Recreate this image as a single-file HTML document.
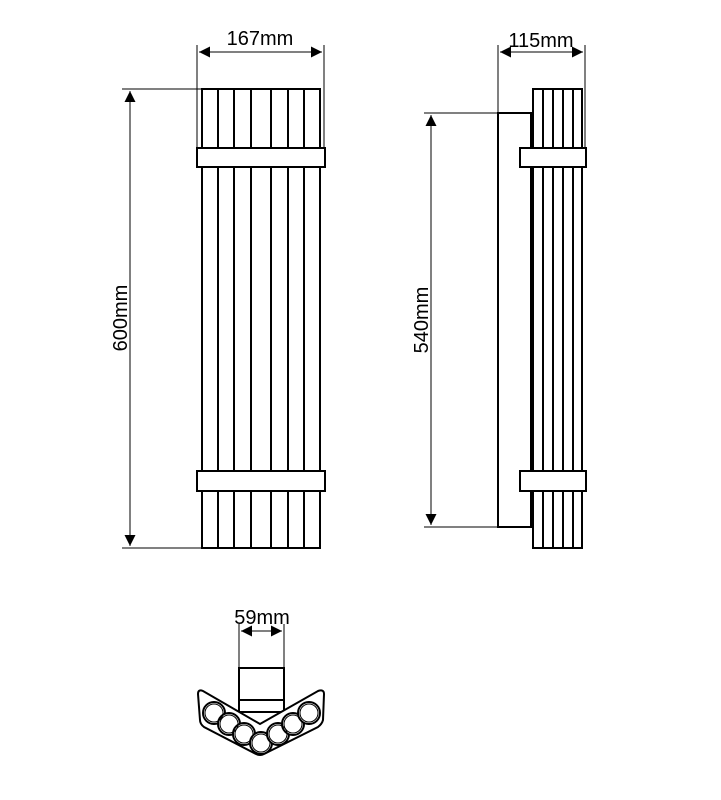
<!DOCTYPE html>
<html><head><style>body{margin:0;background:#fff}svg{display:block}</style></head><body>
<svg width="721" height="800" viewBox="0 0 721 800" xmlns="http://www.w3.org/2000/svg" font-family="Liberation Sans, sans-serif">
<defs><marker id="a" viewBox="0 0 10 10" refX="10" refY="5" markerWidth="15" markerHeight="11" orient="auto-start-reverse" markerUnits="userSpaceOnUse"><path d="M0,0L10,5L0,10z" fill="#000"/></marker></defs>
<g stroke="#000" fill="none" stroke-width="1">
<line x1="197" y1="45" x2="197" y2="148"/><line x1="324" y1="45" x2="324" y2="148"/>
<line x1="199" y1="52" x2="322" y2="52" marker-start="url(#a)" marker-end="url(#a)"/>
<line x1="122" y1="89" x2="202" y2="89"/><line x1="122" y1="548" x2="202" y2="548"/>
<line x1="130" y1="91" x2="130" y2="546" marker-start="url(#a)" marker-end="url(#a)"/>
<g stroke-width="2">
<rect x="202" y="89" width="118" height="459"/>
<line x1="218" y1="89" x2="218" y2="548"/><line x1="234" y1="89" x2="234" y2="548"/><line x1="251" y1="89" x2="251" y2="548"/><line x1="271" y1="89" x2="271" y2="548"/><line x1="288" y1="89" x2="288" y2="548"/><line x1="304" y1="89" x2="304" y2="548"/>
<rect x="197" y="148" width="128" height="19" fill="#fff"/>
<rect x="197" y="471" width="128" height="20" fill="#fff"/>
<rect x="533" y="89" width="49" height="459"/>
<line x1="543" y1="89" x2="543" y2="548"/><line x1="553" y1="89" x2="553" y2="548"/><line x1="563" y1="89" x2="563" y2="548"/><line x1="573" y1="89" x2="573" y2="548"/>
<rect x="498" y="113" width="33" height="414" fill="#fff"/>
<rect x="520" y="148" width="66" height="19" fill="#fff"/>
<rect x="520" y="471" width="66" height="20" fill="#fff"/>
</g>
<line x1="498" y1="45" x2="498" y2="113"/><line x1="585" y1="45" x2="585" y2="148"/>
<line x1="500" y1="52" x2="583" y2="52" marker-start="url(#a)" marker-end="url(#a)"/>
<line x1="424" y1="113" x2="498" y2="113"/><line x1="424" y1="527" x2="498" y2="527"/>
<line x1="431" y1="115" x2="431" y2="525" marker-start="url(#a)" marker-end="url(#a)"/>
<line x1="239" y1="624" x2="239" y2="668"/><line x1="284" y1="624" x2="284" y2="668"/>
<line x1="241" y1="631" x2="282" y2="631" marker-start="url(#a)" marker-end="url(#a)"/>
<g stroke-width="2">
<rect x="239" y="668" width="45" height="44"/>
<line x1="239" y1="700" x2="284" y2="700"/>
<path d="M198,694 Q198,689 203,691 L260,724 L318,691 Q324,689 324,694 L323,720 Q322,724 318,727 L264,754 Q260,756 256,754 L204,727 Q200,724 200,720 Z" fill="#fff"/>
<g fill="#fff"><circle cx="214" cy="713" r="11"/><circle cx="229" cy="724" r="11"/><circle cx="244" cy="734" r="11"/><circle cx="261" cy="743" r="11"/><circle cx="278" cy="734" r="11"/><circle cx="293" cy="724" r="11"/><circle cx="309" cy="713" r="11"/></g>
</g>
<g stroke-width="1"><circle cx="214" cy="713" r="9"/><circle cx="229" cy="724" r="9"/><circle cx="244" cy="734" r="9"/><circle cx="261" cy="743" r="9"/><circle cx="278" cy="734" r="9"/><circle cx="293" cy="724" r="9"/><circle cx="309" cy="713" r="9"/></g>
</g>
<g font-size="20" fill="#000" text-anchor="middle">
<text x="260" y="45">167mm</text>
<text x="541" y="47">115mm</text>
<text x="262" y="624">59mm</text>
<text transform="translate(127,318) rotate(-90)">600mm</text>
<text transform="translate(428,320) rotate(-90)">540mm</text>
</g>
</svg>
</body></html>
